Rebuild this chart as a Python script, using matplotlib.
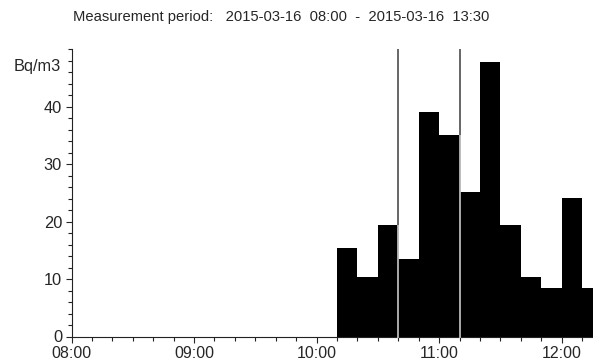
import matplotlib
matplotlib.use("Agg")
import matplotlib.pyplot as plt
import matplotlib.dates as mdates
import matplotlib.transforms as mtrans
from matplotlib.ticker import FixedLocator, MultipleLocator
from datetime import datetime, timedelta

plt.rcParams['font.family'] = ['Liberation Sans', 'DejaVu Sans']

title = "Measurement period:   2015-03-16  08:00  -  2015-03-16  13:30"
unit_label = "Bq/m3"
day = "2015-03-16"
bar_starts = ["10:10", "10:20", "10:30", "10:40", "10:50", "11:00", "11:10",
              "11:20", "11:30", "11:40", "11:50", "12:00", "12:10"]
values = [15.4, 10.3, 19.4, 13.5, 39.1, 35.1, 25.2, 47.8, 19.4, 10.3, 8.4, 24.1, 8.4]
bar_minutes = 10
marker_times = ["10:40", "11:10"]
x_start = "08:00"
x_end = "12:15:20"
y_major = [0, 10, 20, 30, 40]
y_max = 50


def t(s):
    fmt = "%Y-%m-%d %H:%M:%S" if s.count(":") == 2 else "%Y-%m-%d %H:%M"
    return datetime.strptime(f"{day} {s}", fmt)


TXT = '#262626'
fig = plt.figure(figsize=(5.93, 3.63), dpi=100)
ax = fig.add_axes([71.5 / 593, 26.5 / 363, 1 - 71.5 / 593, (336.5 - 49.3) / 363])

starts = [t(s) for s in bar_starts]
width = timedelta(minutes=bar_minutes)
ax.bar(starts, values, width=width, align='edge', color='black', linewidth=0)

# marker lines: dark grey over white, light grey over bars
for m in marker_times:
    mt = t(m)
    h = 0
    for s, v in zip(starts, values):
        if s <= mt <= s + width:
            h = max(h, v)
    ax.plot([mt, mt], [h, y_max], color='#5a5a5a', lw=1.3, solid_capstyle='butt', clip_on=False, zorder=3)
    ax.plot([mt, mt], [-0.3, h], color='#b8b8b8', lw=1.3, solid_capstyle='butt', clip_on=False, zorder=3)

ax.set_xlim(t(x_start), t(x_end))
ax.set_ylim(0, y_max)

ax.xaxis.set_major_locator(mdates.HourLocator())
ax.xaxis.set_major_formatter(mdates.DateFormatter("%H:%M"))
ax.xaxis.set_minor_locator(mdates.MinuteLocator(byminute=range(0, 60, 10)))
ax.yaxis.set_major_locator(FixedLocator(y_major))
ax.yaxis.set_minor_locator(MultipleLocator(2))

for side in ['top', 'right']:
    ax.spines[side].set_visible(False)
for side in ['left', 'bottom']:
    ax.spines[side].set_linewidth(0.8)
    ax.spines[side].set_color('#222222')

ax.tick_params(axis='x', which='major', direction='out', length=4.3, width=0.8, pad=2.5,
               labelsize=11.5, colors=TXT)
ax.tick_params(axis='x', which='minor', direction='out', length=2.6, width=0.8, colors='#222222')
ax.tick_params(axis='y', which='major', direction='out', length=4.3, width=0.8, pad=2.5,
               labelsize=11.8, colors=TXT)
ax.tick_params(axis='y', which='minor', direction='out', length=2.8, width=0.8, colors='#222222')

trans = mtrans.blended_transform_factory(ax.transAxes, ax.transData)
ax.text(-10.5 / 521.5, 47.0, unit_label, transform=trans, ha='right', va='center',
        fontsize=11.8, color=TXT)

fig.text(73 / 593, 1 - 17 / 363, title, ha='left', va='center', fontsize=10.6, color=TXT)

fig.savefig("out.png", dpi=100)
